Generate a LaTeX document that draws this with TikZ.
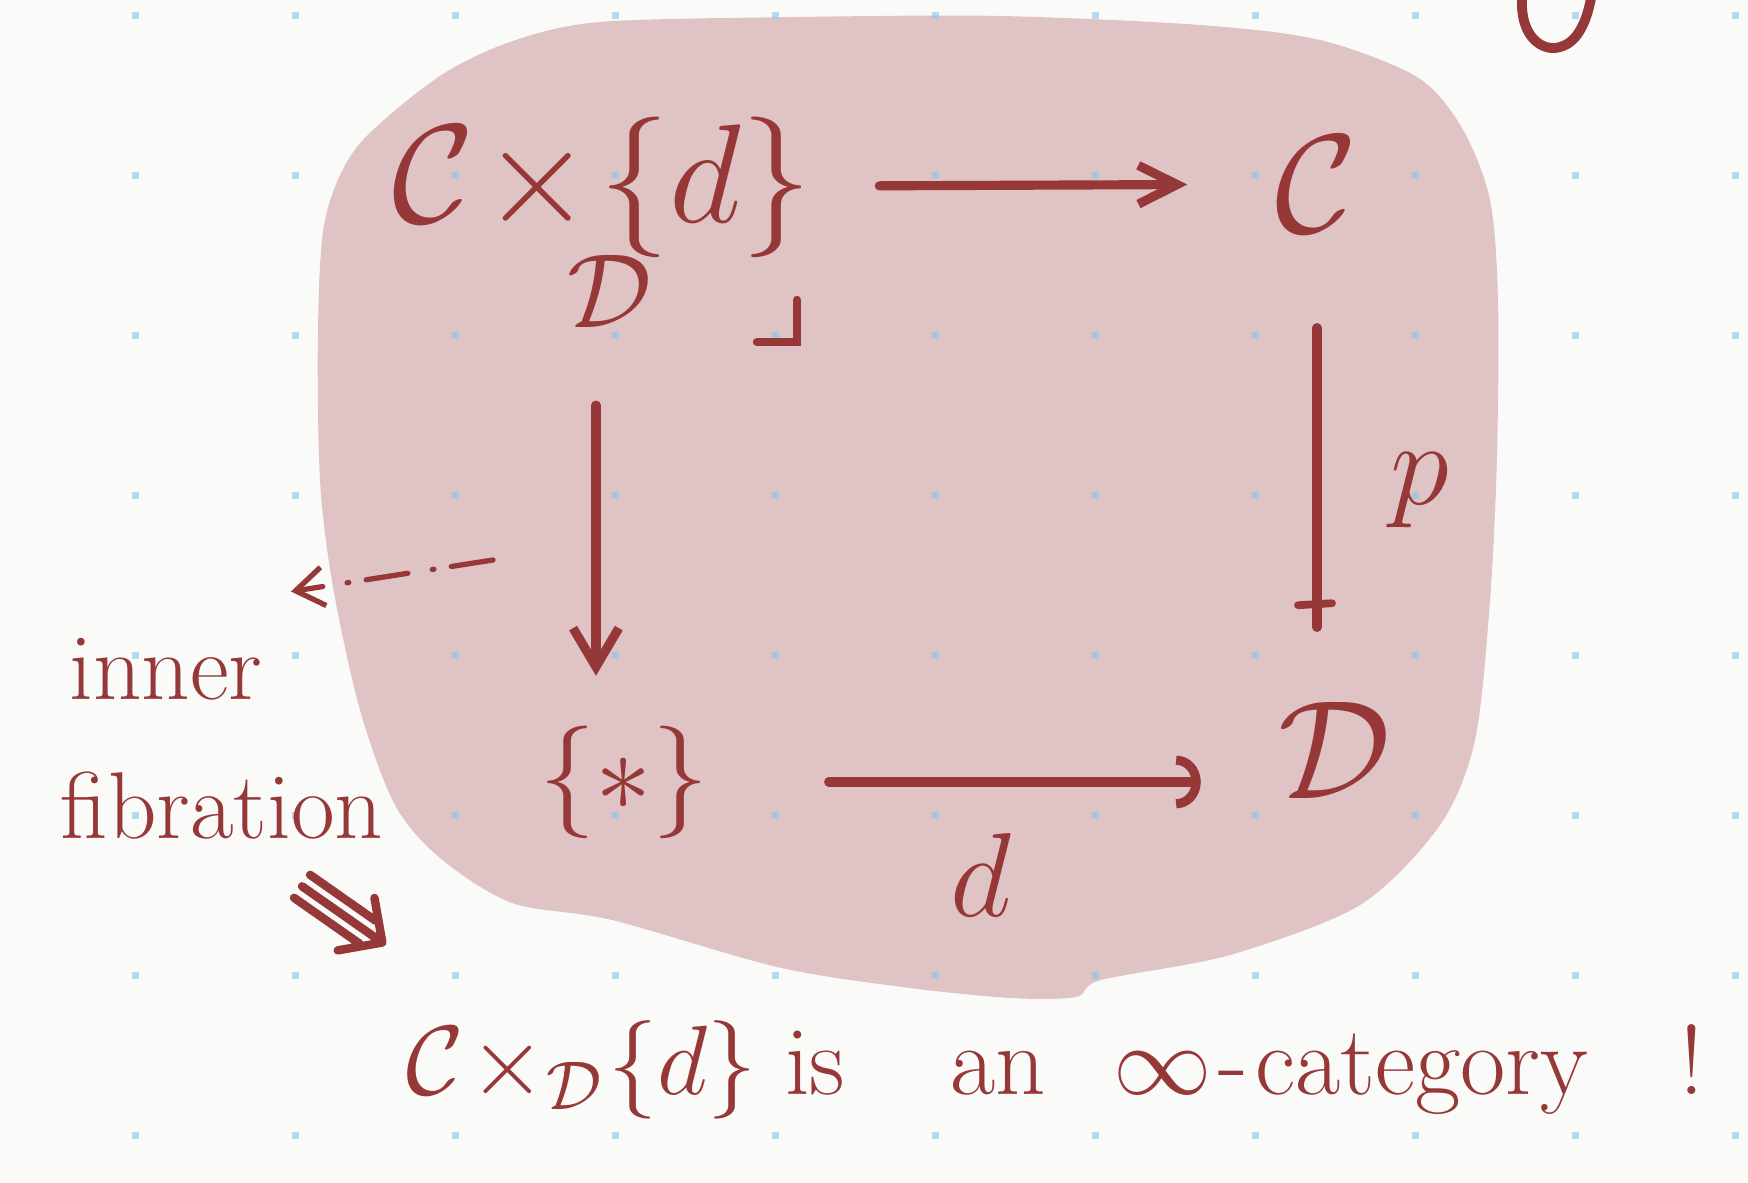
\RequirePackage{fix-cm}
\documentclass[tikz,border=0pt]{standalone}
\usepackage{amsmath,amssymb}
\usepackage{tikz}
\usetikzlibrary{arrows.meta,positioning,calc}

\definecolor{ink}{HTML}{963838}
\definecolor{blob}{HTML}{DFC3C5}
\definecolor{paper}{HTML}{FAFAF9}
\definecolor{dotblue}{HTML}{8CC8E8}

\begin{document}
\begin{tikzpicture}[x=0.01cm, y=-0.01cm,
    obj/.style={ink, inner sep=0pt, font=\fontsize{40}{44}\selectfont},
    lbl/.style={ink, inner sep=0pt, font=\fontsize{34}{40}\selectfont},
    note/.style={ink, inner sep=0pt, font=\fontsize{28}{34}\selectfont},
    arr/.style={ink, line width=2.6pt, line cap=round}]
    \fill[paper] (0,0) rectangle (1748,1183);
    \useasboundingbox (0,0) rectangle (1748,1183);

    % Pink blob behind the square
    \fill[blob] plot[smooth cycle, tension=0.5] coordinates {
        (600,22) (800,17) (1000,16) (1200,25) (1320,40) (1417,77)
        (1462,128) (1490,200) (1498,300) (1497,456)
        (1490,600) (1475,740) (1440,825) (1360,905)
        (1230,955) (1101,980) (1076,997) (1010,998) (902,987)
        (777,967) (612,920) (512,903) (440,858) (395,805)
        (360,710) (333,587) (320,480) (318,330) (325,220)
        (357,147) (437,78) (510,42)};

    % Dot grid
    \foreach \i in {0,...,10}
        \foreach \j in {0,...,7}
            \fill[dotblue, opacity=0.65] (131.5+160*\i, 12.5+160*\j) rectangle ++(7,7);

    % Tail of a letter from the line above
    \draw[ink, line width=2.8pt, line cap=round] (1522,-2) .. controls (1520,40) and (1545,52) .. (1560,47)
        .. controls (1580,42) and (1588,15) .. (1591,-2);

    % Pullback square
    \node[obj] (ctop) at (602,187) {$\mathcal{C}\!\times\!\{d\}$};
    \node[obj, font=\fontsize{30}{34}\selectfont] (dsub) at (610,291) {$\mathcal{D}$};
    \node[obj] (cright) at (1317,184) {$\mathcal{C}$};
    \node[obj, font=\fontsize{32}{36}\selectfont] (pt) at (624,782) {$\{*\}$};
    \node[obj] (dbot) at (1335,750) {$\mathcal{D}$};
    \node[lbl] (lblp) at (1420,490) {$p$};
    \node[lbl] (lbld) at (981,875) {$d$};

    \draw[arr, -{Straight Barb[length=11pt, width=11pt]}, shorten <=19pt, shorten >=25pt] (ctop) -- (cright);
    \draw[arr, shorten <=27pt, shorten >=21pt] (cright.south) -- (cright.south |- dbot.north);
    \draw[ink, line width=2.2pt, line cap=round]
        ($(cright.south |- dbot.north)+(-19,-96)$) -- ($(cright.south |- dbot.north)+(15,-98)$);
    \draw[arr, -{Straight Barb[length=11pt, width=13pt]}, shorten <=22pt, shorten >=14pt]
        ([xshift=-4pt]dsub.south) -- ([xshift=-4pt]dsub.south |- pt.north);
    \draw[arr, -{Arc Barb[length=7pt, width=15pt]}, shorten <=34pt, shorten >=22pt] (pt.east) -- (pt.east -| dbot.west);

    % Corner mark
    \draw[ink, line width=2.4pt, line cap=round] (757,342) -- (797,342) -- (797,300);

    % Side note
    \node[note, anchor=base, font=\fontsize{27}{32}\selectfont] (inner) at (166,700) {inner};
    \node[note, anchor=base, font=\fontsize{27}{32}\selectfont] (fibr) at (222,839) {fibration};
    \coordinate (dashstart) at (493,560);
    \draw[ink, line width=1.5pt, line cap=round, dash pattern=on 12pt off 5pt on 0.5pt off 7pt,
        -{Straight Barb[length=8pt, width=11pt]}, shorten >=8pt] (dashstart) -- ([yshift=12pt]inner.north east);

    % Triple arrow (implies)
    \begin{scope}[shift={(343,915)}, rotate=-35]
        \draw[ink, line width=2.4pt, line cap=round, line join=round]
            (-50,-14) -- (30,-14) (-50,0) -- (40,0) (-50,14) -- (30,14)
            (16,-32) -- (48,0) -- (16,32);
    \end{scope}

    % Conclusion
    \node[note, anchor=base west] (concl) at (406,1095)
        {$\mathcal{C}\!\times_{\mathcal{D}}\!\{d\}$\hspace{8pt}is\hspace{30pt}an\hspace{19pt}$\infty$\hspace{2pt}-\hspace{2pt}category\hspace{26pt}!};
\end{tikzpicture}
\end{document}
